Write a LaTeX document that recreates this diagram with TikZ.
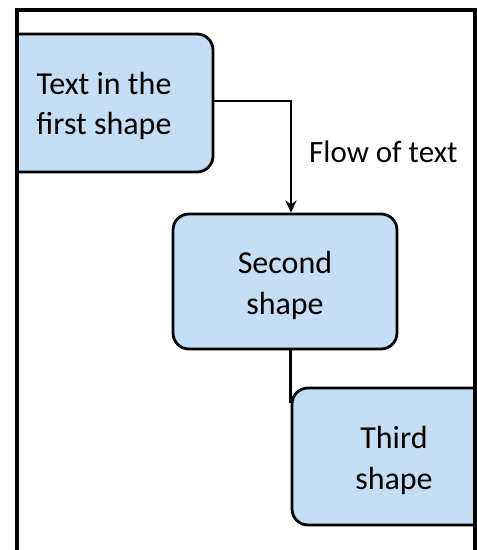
\documentclass[tikz,border=0pt]{standalone}
\usepackage{fontspec}
\setmainfont{Carlito}
\usetikzlibrary{arrows.meta}
\definecolor{boxfill}{RGB}{196,222,245}
\tikzset{
  shapebox/.style={draw=black, line width=2.8pt, fill=boxfill, rounded corners=16pt, inner sep=0pt},
  boxtext/.style={align=center, inner sep=0pt, font=\fontsize{32}{40.5}\selectfont},
  flowline/.style={draw=black, line width=2.3pt},
}
\begin{document}
\begin{tikzpicture}[x=1pt,y=1pt]
\useasboundingbox (0,0) rectangle (477,550);
\begin{scope}
  \clip (17,-10) rectangle (475,540);
  \node[shapebox, minimum width=218pt, minimum height=138pt] (first) at (104,447) {};
  \node[shapebox, minimum width=224pt, minimum height=135pt] (second) at (285,268.5) {};
  \node[shapebox, minimum width=204pt, minimum height=137pt] (third) at (394,93.5) {};
  \draw[flowline, -{Stealth[length=12pt,width=11pt]}] ([yshift=2pt]first.east) -| ([xshift=6pt]second.north);
  \draw[flowline] (second.south -| third.west) -- ([yshift=-16pt]third.north west);
\end{scope}
\node[boxtext] (t1) at ([yshift=-3pt]first.center) {Text in the\\first shape};
\node[boxtext] (t2) at ([yshift=-4pt]second.center) {Second\\shape};
\node[boxtext] (t3) at ([yshift=-4pt]third.center) {Third\\shape};
\node[anchor=base west, inner sep=0pt, font=\fontsize{31}{40}\selectfont] (flow) at (309,387.7) {Flow of text};
\draw[line width=3.2pt] (17,-10) -- (17,540) -- (475,540) -- (475,-10);
\end{tikzpicture}
\end{document}
